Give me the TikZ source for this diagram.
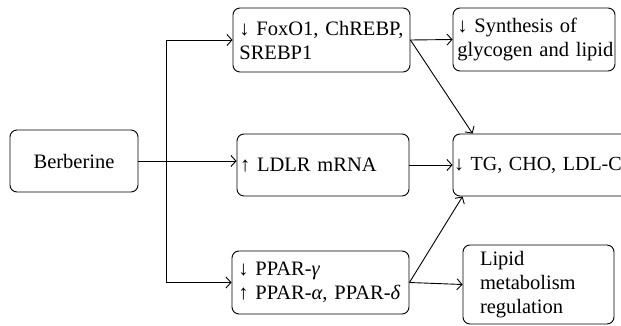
\documentclass[tikz,border=0pt]{standalone}
\usepackage{fontspec}
\setmainfont{Liberation Serif}
\usepackage{tikz}
\usetikzlibrary{arrows.meta}

\tikzset{
    box/.style={draw, line width=0.9pt, rounded corners=7pt, inner xsep=3pt, inner ysep=0pt,
        align=left, font=\fontsize{20.5}{24}\selectfont},
    flow/.style={line width=0.9pt, -{Straight Barb[length=5pt,width=11pt,line width=0.9pt]}}
}

\begin{document}
\begin{tikzpicture}[x=1pt,y=-1pt]

    \clip (0,0) rectangle (621,326);

    \node[box, align=center, minimum width=128pt, minimum height=62pt] (berb) at (74,161) {Berberine};

    \node[box, minimum width=177pt, minimum height=64pt, text width=171pt] (fox) at (321.5,40)
        {\,↓ FoxO1, ChREBP,\\\,SREBP1};
    \node[box, minimum width=172pt, minimum height=62pt, text width=166pt] (ldlr) at (323,165)
        {↑ LDLR mRNA};
    \node[box, minimum width=177pt, minimum height=63pt, text width=171pt] (ppar) at (320.5,282.5)
        {\,↓ PPAR-\textit{γ}\\\,↑ PPAR-\textit{α}, PPAR-\textit{δ}};

    \node[box, inner xsep=1pt, minimum width=162pt, minimum height=63pt, text width=160pt] (synth) at (534,39.5)
        {\,↓ Synthesis of\\\,glycogen and lipid};
    \node[box, inner xsep=1pt, font=\fontsize{20}{24}\selectfont, minimum width=220pt, minimum height=62pt,
        text width=218pt] (tg) at (563,165)
        {↓ TG, CHO, LDL-C};
    \node[box, minimum width=151pt, minimum height=79pt, text width=117pt] (lipid) at (538.5,284.5)
        {Lipid\\metabolism\\regulation};

    % fork from berberine
    \coordinate (fork) at (166,161);
    \coordinate (forktop) at (fork |- fox.west);
    \coordinate (forkbot) at (fork |- ppar.west);
    \draw[line width=0.9pt] (berb.east) -- (fork);
    \draw[line width=0.9pt] (forktop) -- (forkbot);
    \draw[flow] (forktop) -- (fox.west);
    \draw[flow] (fork) -- (fork -| ldlr.west);
    \draw[flow] (forkbot) -- (ppar.west);

    \coordinate (tgtop) at ([xshift=20pt]tg.north west);
    \coordinate (tgbot) at ([xshift=10pt]tg.south west);
    \draw[flow] (fox.east) -- (synth.west);
    \draw[flow] (fox.east) -- (tgtop);
    \draw[flow] (ldlr.east) -- (tg.west);
    \draw[flow] (ppar.east) -- (tgbot);
    \draw[flow] (ppar.east) -- (lipid.west);
  \end{tikzpicture}
\end{document}
